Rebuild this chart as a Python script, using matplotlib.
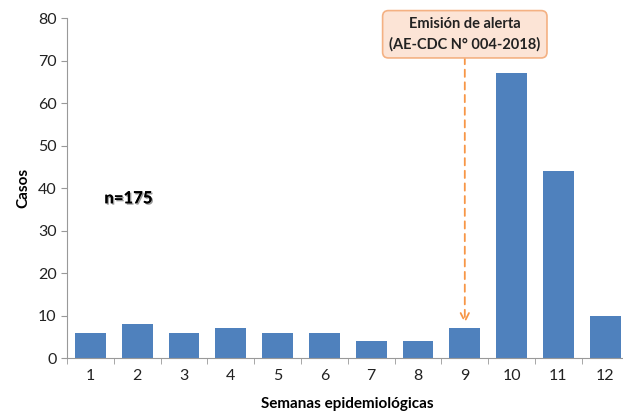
import matplotlib
matplotlib.use("Agg")
import matplotlib.pyplot as plt
import matplotlib.patheffects as pe

weeks = ["1", "2", "3", "4", "5", "6", "7", "8", "9", "10", "11", "12"]
cases = [6, 8, 6, 7, 6, 6, 4, 4, 7, 67, 44, 10]
yticks = [0, 10, 20, 30, 40, 50, 60, 70, 80]
alert_week_index = 8

plt.rcParams['font.family'] = ['Lato', 'DejaVu Sans']

fig = plt.figure(figsize=(6.23, 4.12), dpi=100)
ax = fig.add_axes([0.1075, 0.131, 0.9015, 0.825])
x = list(range(len(weeks)))
ax.bar(x, cases, width=0.66, color="#4F81BD", zorder=2)
ax.set_xlim(-0.5, len(weeks) - 0.5)
ax.set_ylim(0, 80)
ax.set_yticks(yticks)
ax.set_xticks(x)
ax.set_xticklabels(weeks, fontsize=11.5, color="#222222")
ax.tick_params(axis='x', length=0, pad=8)
ax.set_xticks([i - 0.5 for i in range(len(weeks) + 1)], minor=True)
ax.tick_params(axis='x', which='minor', length=4, color="#999999")
ax.tick_params(axis='y', length=4, color="#999999", labelsize=11.5, labelcolor="#222222")
for s in ["top", "right"]:
    ax.spines[s].set_visible(False)
for s in ["left", "bottom"]:
    ax.spines[s].set_color("#999999")
ax.set_ylabel("Casos", fontsize=11, fontweight="bold", labelpad=5)
ax.set_xlabel("Semanas epidemiológicas", fontsize=11, fontweight="bold", labelpad=10)

ax.text(0.3, 37.6, "n=175", fontsize=12, fontweight="bold", va="center", ha="left",
        path_effects=[pe.withSimplePatchShadow(offset=(1, -1), alpha=0.4), pe.Normal()])

ax.annotate("", xy=(alert_week_index, cases[alert_week_index] + 0.5),
            xytext=(alert_week_index, 71.5),
            arrowprops=dict(arrowstyle="->", color="#F79646", lw=1.3,
                            linestyle=(0, (4, 3)), mutation_scale=15))
ax.text(alert_week_index, 76.2, "Emisión de alerta\n(AE-CDC N° 004-2018)",
        ha="center", va="center", fontsize=10.5, fontweight="bold", color="#222222",
        linespacing=1.5,
        bbox=dict(boxstyle="round,pad=0.45,rounding_size=0.4", fc="#FCE4D6", ec="#F4B183", lw=1.2))

fig.savefig("out.png", dpi=100)
